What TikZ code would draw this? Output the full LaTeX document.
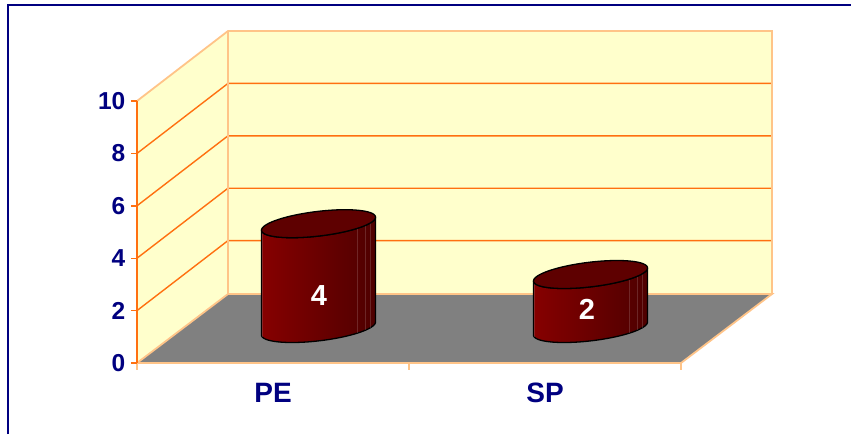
\documentclass[tikz,border=0pt]{standalone}
\usepackage{fontspec}
\setmainfont{Liberation Sans}
\definecolor{navyc}{HTML}{000080}
\definecolor{wallc}{HTML}{FFFFCC}
\definecolor{edgec}{HTML}{FFC488}
\definecolor{gridc}{HTML}{FF7010}
\definecolor{floorc}{HTML}{808080}
\definecolor{cylL}{HTML}{860000}
\definecolor{cylR}{HTML}{4E0000}
\definecolor{cylT}{HTML}{5E0000}
\tikzset{
  gridln/.style={draw=gridc, line width=1.4pt},
  edgeln/.style={draw=edgec, line width=1.8pt},
  axlbl/.style={anchor=east, inner sep=0pt, text=navyc, font=\fontsize{24.5}{24.5}\selectfont\bfseries},
  catlbl/.style={inner sep=0pt, text=navyc, font=\fontsize{28}{28}\selectfont\bfseries},
  datalbl/.style={inner sep=0pt, text=white, font=\fontsize{29}{29}\selectfont\bfseries},
  cylbody/.style={left color=cylL, right color=cylR, draw=black, line width=1.3pt},
  cyltop/.style={fill=cylT, draw=black, line width=1.3pt},
  facet/.style={draw=white, opacity=0.15, line width=0.6pt}
}
\newcommand\drawcyl[3]{%
  \path[cylbody] plot[domain=207.69:387.69, samples=60, variable=\t]
      ({#1+50.5*cos(\t)+26.5*sin(\t)},{#2-14*sin(\t)})
    -- plot[domain=387.69:207.69, samples=60, variable=\t]
      ({#1+50.5*cos(\t)+26.5*sin(\t)},{#2-#3-14*sin(\t)}) -- cycle;
  \foreach \t in {216,340,352,364}{
    \path[facet] ({#1+50.5*cos(\t)+26.5*sin(\t)},{#2-14*sin(\t)})
      -- ({#1+50.5*cos(\t)+26.5*sin(\t)},{#2-#3-14*sin(\t)});
  }
  \path[cyltop] plot[domain=0:360, samples=90, variable=\t]
      ({#1+50.5*cos(\t)+26.5*sin(\t)},{#2-#3-14*sin(\t)}) -- cycle;
}
\begin{document}
\begin{tikzpicture}[x=1pt,y=-1pt]
\useasboundingbox (0,0) rectangle (851,434);
\fill[white] (0,0) rectangle (851,434);
% walls
\fill[wallc] (137,363) -- (137,101) -- (228,31) -- (228,294) -- cycle;
\fill[wallc] (228,31) rectangle (772,294);
% floor
\fill[floorc] (137,363) -- (228,294) -- (772,294) -- (681,363) -- cycle;
% gridlines
\foreach \v [evaluate=\v as \yy using 363-26.2*\v] in {2,4,6,8}{
  \draw[gridln] (137,\yy) -- (228,\yy-70) -- (772,\yy-70);
}
% edges
\draw[edgeln] (137,101) -- (228,31) -- (772,31) -- (772,294);
\draw[edgeln] (228,31) -- (228,294);
\draw[edgeln] (137,363) -- (228,294) -- (772,294) -- (681,363);
\draw[edgeln] (137,363) -- (681,363);
\foreach \xx in {137,409,681}{
  \draw[edgeln] (\xx,363) -- (\xx,370);
}
% y axis
\draw[gridln] (137,101) -- (137,363);
\foreach \v [evaluate=\v as \yy using 363-26.2*\v] in {0,2,4,6,8,10}{
  \draw[gridln] (131,\yy) -- (137,\yy);
  \node[axlbl] (y\v) at (125.5,\yy) {\v};
}
% cylinders
\drawcyl{318.5}{328.5}{104.8}
\drawcyl{590.5}{328.5}{54}
\node[datalbl] (v4) at (319,295.5) {4};
\node[datalbl] (v2) at (587,309.5) {2};
% category labels
\node[catlbl] (pe) at (273,393) {PE};
\node[catlbl] (sp) at (545,393) {SP};
% frame
\draw[navyc, line width=2pt] (8,434) -- (8,5) -- (851,5);
\end{tikzpicture}
\end{document}
